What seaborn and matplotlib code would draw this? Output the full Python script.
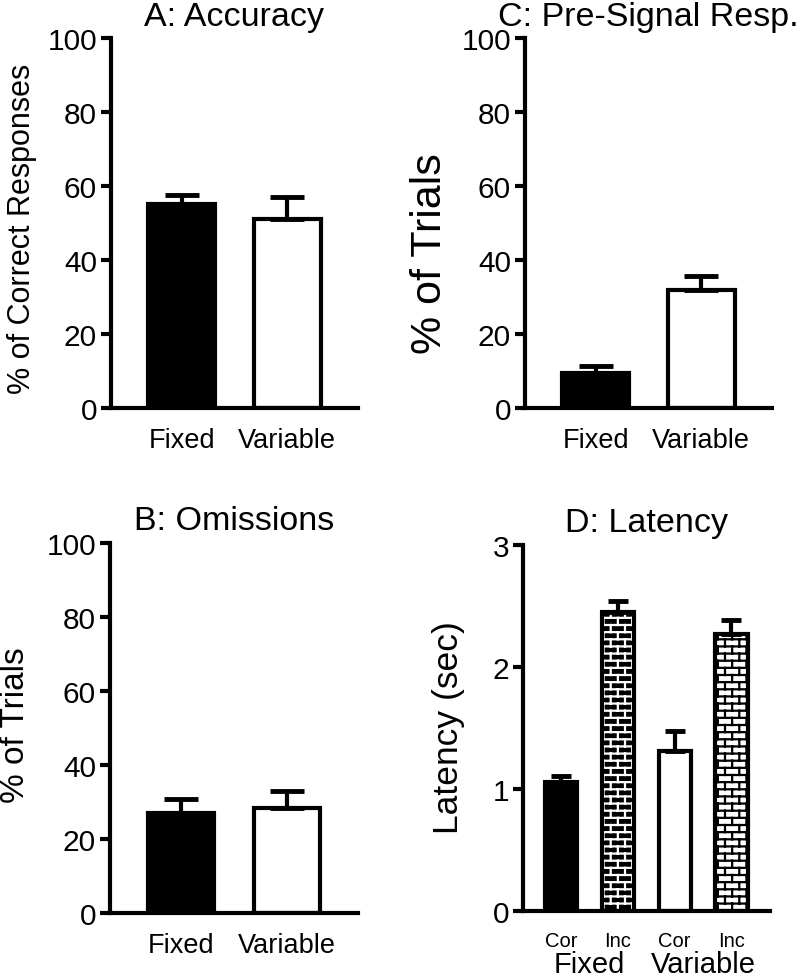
import warnings
import numpy as np
import matplotlib
matplotlib.use('Agg')
import matplotlib.pyplot as plt
import matplotlib.hatch as mhatch
import matplotlib.transforms as mtransforms
from matplotlib.path import Path
import seaborn as sns

warnings.filterwarnings('ignore', category=matplotlib.MatplotlibDeprecationWarning)

# ---- data ----
conditions = ['Fixed', 'Variable']
bar_colors = ['black', 'white']

accuracy_mean = [55.1, 51.2]
accuracy_sem = [2.5, 5.7]

presignal_mean = [9.5, 31.8]
presignal_sem = [1.9, 3.8]

omission_mean = [27.1, 28.4]
omission_sem = [3.6, 4.6]

latency_groups = ['Fixed', 'Variable']
latency_kinds = ['Cor', 'Inc']
latency_mean = [1.06, 2.455, 1.316, 2.273]
latency_sem = [0.048, 0.09, 0.16, 0.115]


# brick pattern for the "Inc" bars (matplotlib has no brick hatch)
class BrickHatch(mhatch.HatchPatternBase):
    rows = 14
    cols = 7

    def __init__(self, hatch, density):
        self.segs = []
        if 'b' in hatch:
            h = 1.0 / self.rows
            w = 1.0 / self.cols
            for r in range(self.rows):
                y0 = (r + 0.5) * h
                self.segs.append(((0, y0), (1, y0)))
                off = w * (0.25 if r % 2 == 0 else 0.75)
                for c in range(self.cols):
                    x = c * w + off
                    if r == self.rows - 1:
                        self.segs.append(((x, y0), (x, 1.0)))
                        self.segs.append(((x, 0.0), (x, 0.5 * h)))
                    else:
                        self.segs.append(((x, y0), (x, y0 + h)))
        self.num_vertices = 2 * len(self.segs)

    def set_vertices_and_codes(self, vertices, codes):
        vertices[:] = np.array(self.segs, dtype=float).reshape(-1, 2)
        codes[0::2] = Path.MOVETO
        codes[1::2] = Path.LINETO


mhatch._hatch_types.append(BrickHatch)

sns.set_theme(style='ticks', rc={
    'axes.edgecolor': 'black',
    'axes.labelcolor': 'black',
    'text.color': 'black',
    'xtick.color': 'black',
    'ytick.color': 'black',
    'hatch.linewidth': 1.6,
})
plt.rcParams['font.family'] = ['Liberation Sans', 'DejaVu Sans']


def bar_panel(ax, cats, means, sems, colors, title, ylabel, ylab_size,
              ylab_xy, ymax, ystep, width, capsize, pad):
    sns.barplot(x=cats, y=means, hue=cats, palette=colors, legend=False,
                width=width, saturation=1, edgecolor='black', linewidth=3,
                ax=ax)
    n = len(cats)
    ax.errorbar(np.arange(n), means, yerr=[np.zeros(n), sems], fmt='none',
                ecolor='black', elinewidth=3, capsize=capsize, capthick=3.5)
    ax.set_ylim(0, ymax)
    ax.set_yticks(np.arange(0, ymax + ystep / 2, ystep))
    ax.set_xlim(-0.67, n - 1 + 0.67)
    ax.set_title(title, fontsize=24.5, pad=pad)
    ax.set_ylabel(ylabel, fontsize=ylab_size)
    ax.yaxis.label.set_verticalalignment('center')
    ax.yaxis.set_label_coords(*ylab_xy)
    ax.set_xlabel('')
    sns.despine(ax=ax)
    for s in ['left', 'bottom']:
        ax.spines[s].set_linewidth(3)
    ax.tick_params(axis='y', length=7, width=3, pad=3, labelsize=21.5)
    ax.tick_params(axis='x', length=0, pad=14, labelsize=19.5)


fig = plt.figure(figsize=(8, 9.79), dpi=100)

ax_a = fig.add_axes([0.13875, 0.5822, 0.30875, 0.378])
bar_panel(ax_a, conditions, accuracy_mean, accuracy_sem, bar_colors,
          'A: Accuracy', '% of Correct Responses', 22, (-0.36, 0.486),
          100, 20, 0.63, 12.5, 9)

ax_c = fig.add_axes([0.65625, 0.5822, 0.30875, 0.378])
bar_panel(ax_c, conditions, presignal_mean, presignal_sem, bar_colors,
          'C: Pre-Signal Resp.', '% of Trials', 31, (-0.385, 0.419),
          100, 20, 0.63, 12.5, 9)

ax_b = fig.add_axes([0.1375, 0.0664, 0.31, 0.378])
bar_panel(ax_b, conditions, omission_mean, omission_sem, bar_colors,
          'B: Omissions', '% of Trials', 24, (-0.383, 0.51),
          100, 20, 0.63, 12.5, 10)

# ---- panel D: latency, correct vs incorrect within each schedule ----
lat_cats = [f'{g} {k}' for g in latency_groups for k in latency_kinds]
lat_colors = ['black', 'black', 'white', 'white']
ax_d = fig.add_axes([0.65375, 0.0681, 0.30875, 0.3742])
bar_panel(ax_d, lat_cats, latency_mean, latency_sem, lat_colors,
          'D: Latency', 'Latency (sec)', 25.5, (-0.30, 0.504),
          3, 1, 0.57, 7, 10)
ax_d.set_xlim(-0.675, 3.68)
ax_d.set_xticks(range(len(lat_cats)))
ax_d.set_xticklabels([k for g in latency_groups for k in latency_kinds])
ax_d.tick_params(axis='x', labelsize=14.5, pad=14)
for line in ax_d.get_lines():
    if line.get_linestyle() != 'None':
        line.set_linewidth(2.5)

bars = list(ax_d.patches)
# incorrect bars get the brick fill
inc_fixed, inc_var = bars[1], bars[3]
inc_fixed.set_edgecolor('white')
inc_fixed.set_hatch('b')
inc_fixed.set_linewidth(0)
ax_d.bar(inc_fixed.get_x() + inc_fixed.get_width() / 2, inc_fixed.get_height(),
         width=inc_fixed.get_width(), fill=False, edgecolor='black',
         linewidth=3, zorder=inc_fixed.get_zorder())
inc_var.set_hatch('b')

# group labels under each pair
trans = mtransforms.blended_transform_factory(ax_d.transData, ax_d.transAxes)
for i, g in enumerate(latency_groups):
    ax_d.text(2 * i + 0.5, -0.165, g, transform=trans, ha='center',
              va='baseline', fontsize=21)

fig.savefig('out.png', dpi=100)
